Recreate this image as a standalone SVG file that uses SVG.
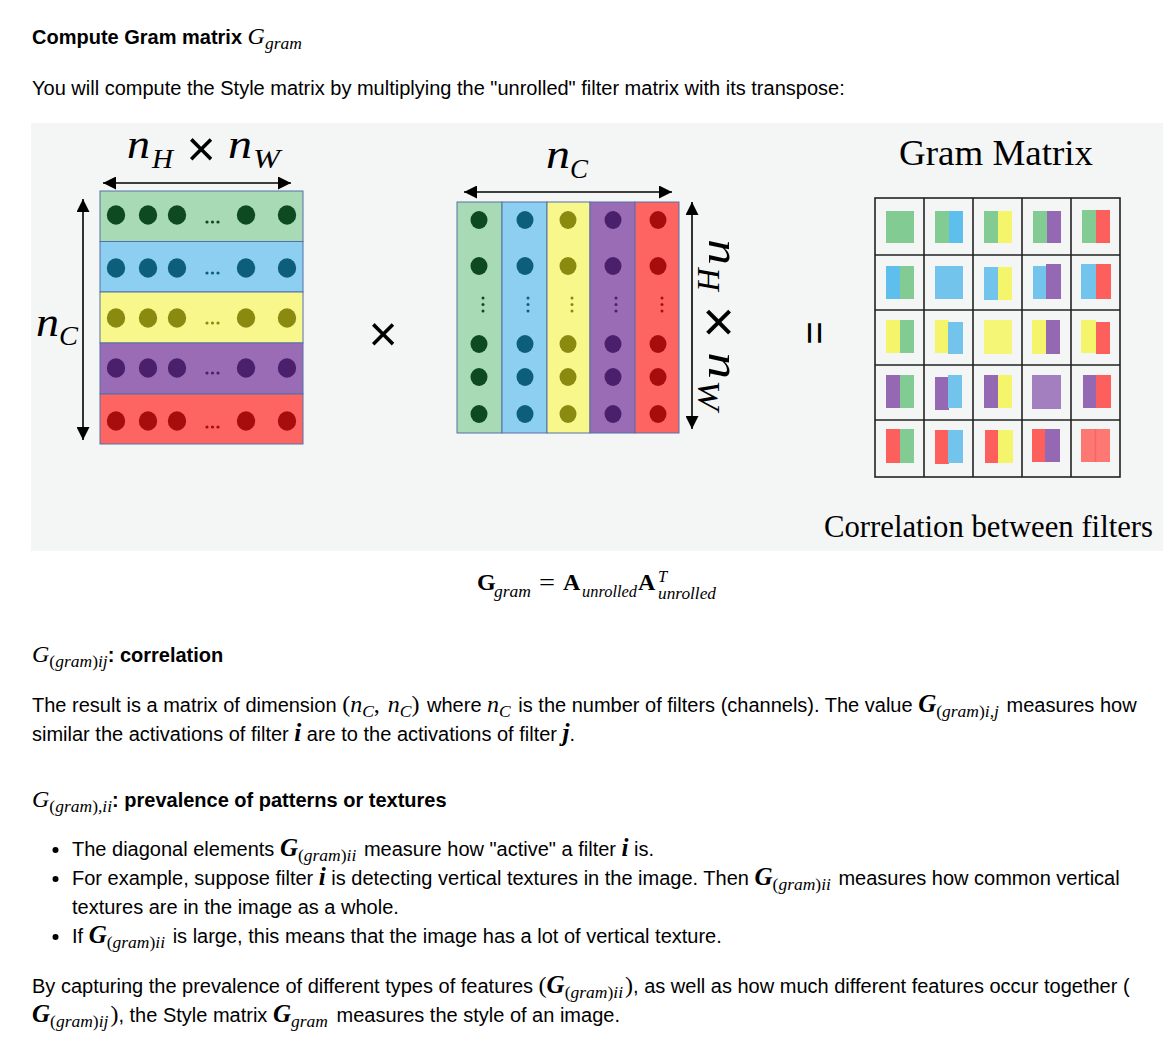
<svg xmlns="http://www.w3.org/2000/svg" width="1169" height="1045" viewBox="0 0 1169 1045">
<defs>
<style>
.t{font-family:"Liberation Sans",Arial,sans-serif;font-size:20px;fill:#000}
.bd{font-weight:bold}
.mi{font-family:"Liberation Serif","Times New Roman",serif;font-style:italic;font-weight:normal;font-size:24px}
.mb{font-family:"Liberation Serif","Times New Roman",serif;font-style:italic;font-weight:bold;font-size:25px}
.mr{font-family:"Liberation Serif","Times New Roman",serif;font-style:normal;font-weight:normal;font-size:24px}
.ms{font-family:"Liberation Serif","Times New Roman",serif;font-style:italic;font-weight:normal;font-size:17.5px}
.up{font-style:normal}
.lbl{font-family:"Liberation Serif","Times New Roman",serif;font-style:italic;fill:#000}
.cm{font-family:"Liberation Serif","Times New Roman",serif;fill:#000}
.op{font-family:"Liberation Sans",Arial,sans-serif;fill:#000}
.row{stroke:#5470a8;stroke-width:1}
.ln{stroke:#000;stroke-width:1.6;fill:none;marker-start:url(#ah);marker-end:url(#ah)}
.grid{fill:none;stroke:#222;stroke-width:1.6}
.g{fill:#82cb92}.b{fill:#72c4ec}.y{fill:#f5f56b}.p{fill:#9568b4}.r{fill:#fd5f5c}
.dg{fill:#0d4a22}.db{fill:#0d5e7b}.dy{fill:#8b8a10}.dp{fill:#4a1f6b}.dr{fill:#a80d0d}
.fb{font-family:"Liberation Serif","Times New Roman",serif;font-weight:bold;font-size:24px;fill:#000}
.fr{font-family:"Liberation Serif","Times New Roman",serif;font-size:24px;fill:#000}
.fs{font-family:"Liberation Serif","Times New Roman",serif;font-style:italic;font-size:16.5px;fill:#000}
</style>
<marker id="ah" viewBox="0 0 13 13" markerUnits="userSpaceOnUse" markerWidth="13" markerHeight="13" refX="13" refY="6.5" orient="auto-start-reverse">
<path d="M0,0 L13,6.5 L0,13 z" fill="#000"/>
</marker>
</defs>
<rect width="1169" height="1045" fill="#fff"/>

<g id="title">
<text class="t bd" x="32" y="44">Compute Gram matrix <tspan class="mi">G</tspan><tspan class="ms" dy="5">gram</tspan></text>
<text class="t" x="32" y="95">You will compute the Style matrix by multiplying the "unrolled" filter matrix with its transpose:</text>
</g>

<rect id="panel" x="31" y="123" width="1132" height="428" fill="#f4f5f5"/>

<g id="left-matrix">
<rect class="row" x="100" y="191" width="203" height="50.5" fill="#a8dab5"/>
<rect class="row" x="100" y="241.5" width="203" height="50.5" fill="#8dcff0"/>
<rect class="row" x="100" y="292" width="203" height="51" fill="#f7f78b"/>
<rect class="row" x="100" y="343" width="203" height="51" fill="#9b6cb6"/>
<rect class="row" x="100" y="394" width="203" height="50" fill="#fd6562"/>
<g class="dg"><ellipse cx="116" cy="215" rx="9.2" ry="9.7"/><ellipse cx="148" cy="215" rx="9.2" ry="9.7"/><ellipse cx="177" cy="215" rx="9.2" ry="9.7"/><ellipse cx="246" cy="215" rx="9.2" ry="9.7"/><ellipse cx="287" cy="215" rx="9.2" ry="9.7"/><circle cx="207" cy="222" r="1.6"/><circle cx="212.5" cy="222" r="1.6"/><circle cx="218" cy="222" r="1.6"/></g>
<g class="db"><ellipse cx="116" cy="268" rx="9.2" ry="9.7"/><ellipse cx="148" cy="268" rx="9.2" ry="9.7"/><ellipse cx="177" cy="268" rx="9.2" ry="9.7"/><ellipse cx="246" cy="268" rx="9.2" ry="9.7"/><ellipse cx="287" cy="268" rx="9.2" ry="9.7"/><circle cx="207" cy="273" r="1.6"/><circle cx="212.5" cy="273" r="1.6"/><circle cx="218" cy="273" r="1.6"/></g>
<g class="dy"><ellipse cx="116" cy="318" rx="9.2" ry="9.7"/><ellipse cx="148" cy="318" rx="9.2" ry="9.7"/><ellipse cx="177" cy="318" rx="9.2" ry="9.7"/><ellipse cx="246" cy="318" rx="9.2" ry="9.7"/><ellipse cx="287" cy="318" rx="9.2" ry="9.7"/><circle cx="207" cy="323" r="1.6"/><circle cx="212.5" cy="323" r="1.6"/><circle cx="218" cy="323" r="1.6"/></g>
<g class="dp"><ellipse cx="116" cy="368" rx="9.2" ry="9.7"/><ellipse cx="148" cy="368" rx="9.2" ry="9.7"/><ellipse cx="177" cy="368" rx="9.2" ry="9.7"/><ellipse cx="246" cy="368" rx="9.2" ry="9.7"/><ellipse cx="287" cy="368" rx="9.2" ry="9.7"/><circle cx="207" cy="373" r="1.6"/><circle cx="212.5" cy="373" r="1.6"/><circle cx="218" cy="373" r="1.6"/></g>
<g class="dr"><ellipse cx="116" cy="421" rx="9.2" ry="9.7"/><ellipse cx="148" cy="421" rx="9.2" ry="9.7"/><ellipse cx="177" cy="421" rx="9.2" ry="9.7"/><ellipse cx="246" cy="421" rx="9.2" ry="9.7"/><ellipse cx="287" cy="421" rx="9.2" ry="9.7"/><circle cx="207" cy="427" r="1.6"/><circle cx="212.5" cy="427" r="1.6"/><circle cx="218" cy="427" r="1.6"/></g>
<text class="lbl" x="127" y="158" font-size="40" textLength="23" lengthAdjust="spacingAndGlyphs">n</text>
<text class="lbl" x="152" y="168" font-size="28" textLength="21" lengthAdjust="spacingAndGlyphs">H</text>
<text class="op" x="201" y="166" font-size="50" text-anchor="middle">×</text>
<text class="lbl" x="228" y="158" font-size="40" textLength="24" lengthAdjust="spacingAndGlyphs">n</text>
<text class="lbl" x="253" y="168" font-size="28" textLength="27" lengthAdjust="spacingAndGlyphs">W</text>
<text class="lbl" x="36" y="336" font-size="40" textLength="23" lengthAdjust="spacingAndGlyphs">n</text>
<text class="lbl" x="59" y="345" font-size="28" textLength="19" lengthAdjust="spacingAndGlyphs">C</text>
</g>

<g id="times-sign"><text class="op" x="383" y="351" font-size="50" text-anchor="middle">×</text></g>

<g id="middle-matrix">
<rect class="row" x="457" y="202" width="45" height="231" fill="#a8dab5"/>
<rect class="row" x="502" y="202" width="45" height="231" fill="#8dcff0"/>
<rect class="row" x="547" y="202" width="43" height="231" fill="#f7f78b"/>
<rect class="row" x="590" y="202" width="45" height="231" fill="#9b6cb6"/>
<rect class="row" x="635" y="202" width="44" height="231" fill="#fd6562"/>
<g class="dg"><ellipse cx="479" cy="220" rx="8.5" ry="9"/><ellipse cx="479" cy="266" rx="8.5" ry="9"/><ellipse cx="479" cy="344" rx="8.5" ry="9"/><ellipse cx="479" cy="377" rx="8.5" ry="9"/><ellipse cx="479" cy="414" rx="8.5" ry="9"/><circle cx="483" cy="298" r="1.5"/><circle cx="483" cy="304.5" r="1.5"/><circle cx="483" cy="311" r="1.5"/></g>
<g class="db"><ellipse cx="525" cy="220" rx="8.5" ry="9"/><ellipse cx="525" cy="266" rx="8.5" ry="9"/><ellipse cx="525" cy="344" rx="8.5" ry="9"/><ellipse cx="525" cy="377" rx="8.5" ry="9"/><ellipse cx="525" cy="414" rx="8.5" ry="9"/><circle cx="528" cy="298" r="1.5"/><circle cx="528" cy="304.5" r="1.5"/><circle cx="528" cy="311" r="1.5"/></g>
<g class="dy"><ellipse cx="568" cy="220" rx="8.5" ry="9"/><ellipse cx="568" cy="266" rx="8.5" ry="9"/><ellipse cx="568" cy="344" rx="8.5" ry="9"/><ellipse cx="568" cy="377" rx="8.5" ry="9"/><ellipse cx="568" cy="414" rx="8.5" ry="9"/><circle cx="572" cy="298" r="1.5"/><circle cx="572" cy="304.5" r="1.5"/><circle cx="572" cy="311" r="1.5"/></g>
<g class="dp"><ellipse cx="613" cy="220" rx="8.5" ry="9"/><ellipse cx="613" cy="266" rx="8.5" ry="9"/><ellipse cx="613" cy="344" rx="8.5" ry="9"/><ellipse cx="613" cy="377" rx="8.5" ry="9"/><ellipse cx="613" cy="414" rx="8.5" ry="9"/><circle cx="616" cy="298" r="1.5"/><circle cx="616" cy="304.5" r="1.5"/><circle cx="616" cy="311" r="1.5"/></g>
<g class="dr"><ellipse cx="658" cy="220" rx="8.5" ry="9"/><ellipse cx="658" cy="266" rx="8.5" ry="9"/><ellipse cx="658" cy="344" rx="8.5" ry="9"/><ellipse cx="658" cy="377" rx="8.5" ry="9"/><ellipse cx="658" cy="414" rx="8.5" ry="9"/><circle cx="662" cy="298" r="1.5"/><circle cx="662" cy="304.5" r="1.5"/><circle cx="662" cy="311" r="1.5"/></g>
<text class="lbl" x="546" y="168" font-size="40" textLength="24" lengthAdjust="spacingAndGlyphs">n</text>
<text class="lbl" x="570" y="178" font-size="28" textLength="18" lengthAdjust="spacingAndGlyphs">C</text>
<g transform="translate(720,322) rotate(90) scale(1.12)">
<text class="lbl" x="-74" y="10" font-size="40" textLength="23" lengthAdjust="spacingAndGlyphs">n</text>
<text class="lbl" x="-49" y="20" font-size="28" textLength="21" lengthAdjust="spacingAndGlyphs">H</text>
<text class="op" x="0" y="18" font-size="50" text-anchor="middle">×</text>
<text class="lbl" x="27" y="10" font-size="40" textLength="24" lengthAdjust="spacingAndGlyphs">n</text>
<text class="lbl" x="52" y="20" font-size="28" textLength="27" lengthAdjust="spacingAndGlyphs">W</text>
</g>
</g>

<g id="equals-sign" transform="translate(815,333) rotate(90)"><text class="op" x="0" y="14" font-size="40" text-anchor="middle">=</text></g>

<g id="connectors">
<line class="ln" x1="103" y1="183" x2="291" y2="183"/>
<line class="ln" x1="83" y1="199" x2="83" y2="440"/>
<line class="ln" x1="464" y1="192" x2="672" y2="192"/>
<line class="ln" x1="692" y1="202" x2="692" y2="429"/>
</g>

<g id="gram-matrix">
<text class="cm" x="899" y="165" font-size="36" textLength="194" lengthAdjust="spacingAndGlyphs">Gram Matrix</text>
<g id="gram-cells">
<rect class="g" x="886" y="211" width="28" height="32"/>
<rect class="g" x="935" y="211" width="14" height="32"/><rect class="b" x="949" y="211" width="14" height="32" style="fill:#5fbfec"/>
<rect class="g" x="984" y="211" width="14" height="32"/><rect class="y" x="998" y="211" width="14" height="32"/>
<rect class="g" x="1033" y="211" width="14" height="32"/><rect class="p" x="1047" y="211" width="14" height="32"/>
<rect class="g" x="1082" y="210" width="15" height="33"/><rect class="r" x="1096" y="210" width="14" height="33"/>
<rect class="b" x="886" y="266" width="14" height="33" style="fill:#5fbfec"/><rect class="g" x="900" y="266" width="14" height="33"/>
<rect class="b" x="935" y="266" width="28" height="33"/>
<rect class="b" x="984" y="267" width="15" height="33"/><rect class="y" x="998" y="267" width="14" height="33"/>
<rect class="b" x="1033" y="266" width="14" height="33"/><rect class="p" x="1046" y="264" width="15" height="35"/>
<rect class="b" x="1081" y="264" width="16" height="35"/><rect class="r" x="1096" y="264" width="15" height="35"/>
<rect class="y" x="886" y="320" width="15" height="33"/><rect class="g" x="900" y="320" width="14" height="33"/>
<rect class="y" x="935" y="320" width="14" height="33"/><rect class="b" x="948" y="322" width="15" height="32"/>
<rect class="y" x="984" y="320" width="28" height="34" style="fill:#f5f576"/>
<rect class="y" x="1032" y="320" width="15" height="34"/><rect class="p" x="1046" y="320" width="14" height="34"/>
<rect class="y" x="1081" y="320" width="15" height="33"/><rect class="r" x="1096" y="322" width="14" height="32"/>
<rect class="p" x="886" y="375" width="15" height="33"/><rect class="g" x="900" y="375" width="14" height="33"/>
<rect class="p" x="935" y="377" width="14" height="33"/><rect class="b" x="948" y="375" width="14" height="33"/>
<rect class="p" x="984" y="375" width="15" height="33"/><rect class="y" x="998" y="375" width="14" height="33"/>
<rect x="1032" y="375" width="29" height="34" fill="#a47fc0"/>
<rect class="p" x="1083" y="375" width="14" height="33"/><rect class="r" x="1096" y="375" width="15" height="33"/>
<rect class="r" x="886" y="429" width="15" height="34"/><rect class="g" x="900" y="429" width="14" height="34"/>
<rect class="r" x="935" y="430" width="14" height="34"/><rect class="b" x="948" y="430" width="15" height="33"/>
<rect class="r" x="985" y="430" width="14" height="33"/><rect class="y" x="998" y="430" width="15" height="33"/>
<rect class="r" x="1032" y="429" width="15" height="33"/><rect class="p" x="1045" y="429" width="15" height="33"/>
<rect x="1081" y="429" width="15" height="33" fill="#fd7773"/><rect x="1095" y="429" width="15" height="33" fill="#fd7773"/>
<line x1="1095.5" y1="429" x2="1095.5" y2="462" stroke="#f86560" stroke-width="1.5"/>
</g>
<g class="grid">
<rect x="875" y="198" width="245" height="279"/>
<line x1="924" y1="198" x2="924" y2="477"/><line x1="973" y1="198" x2="973" y2="477"/><line x1="1022" y1="198" x2="1022" y2="477"/><line x1="1071" y1="198" x2="1071" y2="477"/>
<line x1="875" y1="255" x2="1120" y2="255"/><line x1="875" y1="310" x2="1120" y2="310"/><line x1="875" y1="365" x2="1120" y2="365"/><line x1="875" y1="420" x2="1120" y2="420"/>
</g>
<text class="cm" x="824" y="537" font-size="31" textLength="329" lengthAdjust="spacingAndGlyphs">Correlation between filters</text>
</g>

<g id="formula">
<text class="fb" x="477" y="590">G</text>
<text class="fs" x="494" y="597" textLength="37" lengthAdjust="spacingAndGlyphs">gram</text>
<text class="fr" x="539" y="590" textLength="16" lengthAdjust="spacingAndGlyphs">=</text>
<text class="fb" x="563" y="590">A</text>
<text class="fs" x="582" y="597" textLength="55" lengthAdjust="spacingAndGlyphs">unrolled</text>
<text class="fb" x="638" y="590">A</text>
<text class="fs" x="658" y="582">T</text>
<text class="fs" x="658" y="599" textLength="58" lengthAdjust="spacingAndGlyphs">unrolled</text>
</g>

<g id="body">
<text class="t bd" x="32" y="662"><tspan class="mi">G</tspan><tspan class="ms" dy="5"><tspan class="up">(</tspan>gram<tspan class="up">)</tspan>ij</tspan><tspan dy="-5">: correlation</tspan></text>
<text class="t" x="32" y="712">The result is a matrix of dimension <tspan class="mr">(</tspan><tspan class="mi">n</tspan><tspan class="ms" dy="5">C</tspan><tspan class="mr" dy="-5">, </tspan><tspan class="mi" dx="2">n</tspan><tspan class="ms" dy="5">C</tspan><tspan class="mr" dy="-5">)</tspan><tspan dx="2"> where </tspan><tspan class="mi">n</tspan><tspan class="ms" dy="5">C</tspan><tspan dy="-5" dx="2"> is the number of filters (channels). The value </tspan><tspan class="mb">G</tspan><tspan class="ms" dy="5"><tspan class="up">(</tspan>gram<tspan class="up">)</tspan>i,j</tspan><tspan dy="-5" dx="2"> measures how</tspan></text>
<text class="t" x="32" y="741">similar the activations of filter <tspan class="mb">i</tspan> are to the activations of filter <tspan class="mb">j</tspan>.</text>

<text class="t bd" x="32" y="807"><tspan class="mi">G</tspan><tspan class="ms" dy="5"><tspan class="up">(</tspan>gram<tspan class="up">)</tspan>,ii</tspan><tspan dy="-5">: prevalence of patterns or textures</tspan></text>

<g id="bullets">
<circle cx="55.5" cy="850" r="3"/><circle cx="55.5" cy="879" r="3"/><circle cx="55.5" cy="937" r="3"/>
<text class="t" x="72" y="856">The diagonal elements <tspan class="mb">G</tspan><tspan class="ms" dy="5"><tspan class="up">(</tspan>gram<tspan class="up">)</tspan>ii</tspan><tspan dy="-5" dx="2"> measure how "active" a filter </tspan><tspan class="mb">i</tspan> is.</text>
<text class="t" x="72" y="885">For example, suppose filter <tspan class="mb">i</tspan> is detecting vertical textures in the image. Then <tspan class="mb">G</tspan><tspan class="ms" dy="5"><tspan class="up">(</tspan>gram<tspan class="up">)</tspan>ii</tspan><tspan dy="-5" dx="2"> measures how common vertical</tspan></text>
<text class="t" x="72" y="914">textures are in the image as a whole.</text>
<text class="t" x="72" y="943">If <tspan class="mb">G</tspan><tspan class="ms" dy="5"><tspan class="up">(</tspan>gram<tspan class="up">)</tspan>ii</tspan><tspan dy="-5" dx="2"> is large, this means that the image has a lot of vertical texture.</tspan></text>
</g>

<text class="t" x="32" y="993">By capturing the prevalence of different types of features <tspan class="mr">(</tspan><tspan class="mb">G</tspan><tspan class="ms" dy="5"><tspan class="up">(</tspan>gram<tspan class="up">)</tspan>ii</tspan><tspan class="mr" dy="-5" dx="2">)</tspan>, as well as how much different features occur together (</text>
<text class="t" x="32" y="1022"><tspan class="mb">G</tspan><tspan class="ms" dy="5"><tspan class="up">(</tspan>gram<tspan class="up">)</tspan>ij</tspan><tspan class="mr" dy="-5" dx="2">)</tspan>, the Style matrix <tspan class="mb">G</tspan><tspan class="ms" dy="5">gram</tspan><tspan dy="-5" dx="3"> measures the style of an image.</tspan></text>
</g>
</svg>
